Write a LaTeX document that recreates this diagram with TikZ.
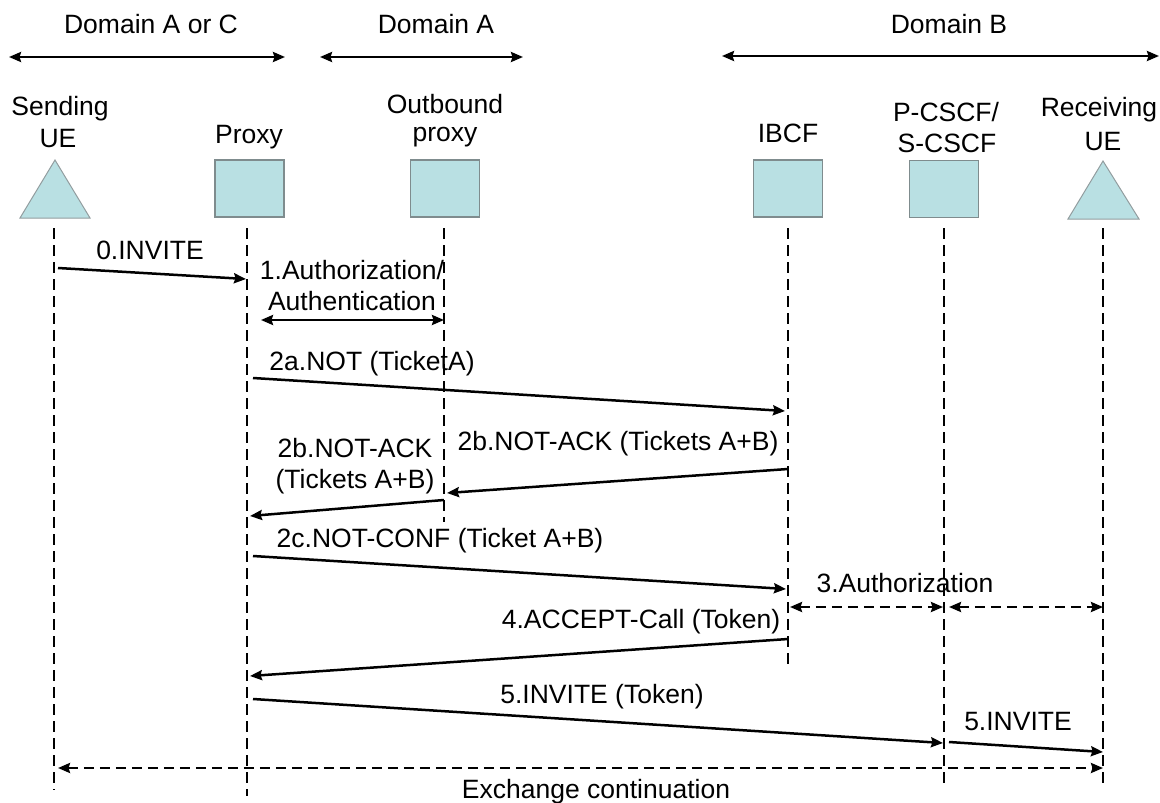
\documentclass[tikz,border=0pt]{standalone}
\usepackage{fontspec}
\setmainfont{Liberation Sans}
\usetikzlibrary{arrows.meta}
\definecolor{boxfill}{HTML}{B9E0E3}
\definecolor{boxline}{HTML}{7F8C8E}
\begin{document}
\begin{tikzpicture}[x=1pt,y=-1pt,
  lbl/.style={anchor=base, inner sep=0pt, font=\fontsize{26.5}{32}\selectfont},
  msg/.style={line width=2.5pt, -{Stealth[length=12pt,width=10pt,inset=1.5pt]}},
  both/.style={line width=2.5pt, {Stealth[length=12pt,width=10pt,inset=1.5pt]}-{Stealth[length=12pt,width=10pt,inset=1.5pt]}},
  dbl/.style={both, dash pattern=on 10pt off 6pt},
  life/.style={line width=2.2pt, dash pattern=on 11pt off 6pt},
  box/.style={draw=boxline, fill=boxfill, line width=1.2pt, minimum width=69pt, minimum height=57pt, inner sep=0pt},
  tri/.style={draw=boxline!85, fill=boxfill, line width=1pt}
]
\useasboundingbox (0,0) rectangle (1160,803);

% domains
\coordinate (dAC1) at (9,57);   \coordinate (dAC2) at (285,57);
\coordinate (dA1) at (320,57);  \coordinate (dA2) at (523,57);
\coordinate (dB1) at (722,56);  \coordinate (dB2) at (1159,56);
\draw[both] (dAC1) -- (dAC2);
\draw[both] (dA1) -- (dA2);
\draw[both] (dB1) -- (dB2);
\node[lbl] (tAC) at (151,33) {Domain A or C};
\node[lbl] (tA) at (436,33) {Domain A};
\node[lbl] (tB) at (949,34) {Domain B};

% entity labels
\node[lbl] (l1a) at (60,115) {Sending};
\node[lbl] (l1b) at (58,147) {UE};
\node[lbl] (l2) at (249,143) {Proxy};
\node[lbl] (l3a) at (445,113) {Outbound};
\node[lbl] (l3b) at (445,141) {proxy};
\node[lbl] (l4) at (788,142) {IBCF};
\node[lbl] (l5a) at (946,121) {P-CSCF/};
\node[lbl] (l5b) at (947,152) {S-CSCF};
\node[lbl] (l6a) at (1099,116) {Receiving};
\node[lbl] (l6b) at (1103,150) {UE};

% entity shapes
\draw[tri] (20,218) -- (55,160) -- (90,218) -- cycle;
\node[box] (proxy) at (249.5,188.5) {};
\node[box] (outb) at (445,188.5) {};
\node[box] (ibcf) at (788,188.5) {};
\node[box] (pcscf) at (944,189) {};
\draw[tri] (1068,219) -- (1103,161) -- (1139,219) -- cycle;

% lifelines
\coordinate (ue1t) at (54,228);  \coordinate (ue1b) at (54,790);
\coordinate (prt) at (247,228);  \coordinate (prb) at (247,796);
\coordinate (obt) at (444,228);  \coordinate (obb) at (444,522);
\coordinate (ibt) at (788,228);  \coordinate (ibb) at (788,664);
\coordinate (pct) at (944,228);  \coordinate (pcb) at (944,789);
\coordinate (ue2t) at (1103,228); \coordinate (ue2b) at (1103,788);
\draw[life] (ue1t) -- (ue1b);
\draw[life] (prt) -- (prb);
\draw[life] (obt) -- (obb);
\draw[life] (ibt) -- (ibb);
\draw[life] (pct) -- (pcb);
\draw[life] (ue2t) -- (ue2b);

% 0
\coordinate (m0a) at (58,268); \coordinate (m0b) at (246,279);
\draw[msg] (m0a) -- (m0b);
\node[lbl] (t0) at (150,259) {0.INVITE};
% 1
\node[lbl] (t1a) at (352,279) {1.Authorization/};
\node[lbl] (t1b) at (352,310) {Authentication};
\coordinate (m1a) at (261,320); \coordinate (m1b) at (444,320);
\draw[both] (m1a) -- (m1b);
% 2a
\node[lbl] (t2a) at (372,370) {2a.NOT (TicketA)};
\coordinate (m2aa) at (253,378); \coordinate (m2ab) at (785,411);
\draw[msg] (m2aa) -- (m2ab);
% 2b right
\node[lbl] (t2b) at (618,450) {2b.NOT-ACK (Tickets A+B)};
\coordinate (m2ba) at (788,469); \coordinate (m2bb) at (447,493);
\draw[msg] (m2ba) -- (m2bb);
% 2b left
\node[lbl] (t2c1) at (355,457) {2b.NOT-ACK};
\node[lbl] (t2c2) at (355,488) {(Tickets A+B)};
\coordinate (m2ca) at (444,500); \coordinate (m2cb) at (250,516);
\draw[msg] (m2ca) -- (m2cb);
% 2c
\node[lbl] (t2d) at (440,547) {2c.NOT-CONF (Ticket A+B)};
\coordinate (m2da) at (253,556); \coordinate (m2db) at (786,589);
\draw[msg] (m2da) -- (m2db);
% 3
\node[lbl] (t3) at (905,592) {3.Authorization};
\coordinate (m3a) at (790,607); \coordinate (m3b) at (943,607);
\coordinate (m3c) at (949,607); \coordinate (m3d) at (1103,607);
\draw[dbl] (m3a) -- (m3b);
\draw[dbl] (m3c) -- (m3d);
% 4
\node[lbl] (t4) at (641,628) {4.ACCEPT-Call (Token)};
\coordinate (m4a) at (788,639); \coordinate (m4b) at (250,676);
\draw[msg] (m4a) -- (m4b);
% 5
\node[lbl] (t5) at (602,703) {5.INVITE (Token)};
\coordinate (m5a) at (253,699); \coordinate (m5b) at (943,743);
\draw[msg] (m5a) -- (m5b);
\node[lbl] (t5b) at (1018,730) {5.INVITE};
\coordinate (m5c) at (949,742); \coordinate (m5d) at (1103,752);
\draw[msg] (m5c) -- (m5d);
% exchange
\coordinate (exa) at (58,768); \coordinate (exb) at (1103,768);
\draw[dbl] (exa) -- (exb);
\node[lbl] (tex) at (596,798) {Exchange continuation};
\end{tikzpicture}
\end{document}
